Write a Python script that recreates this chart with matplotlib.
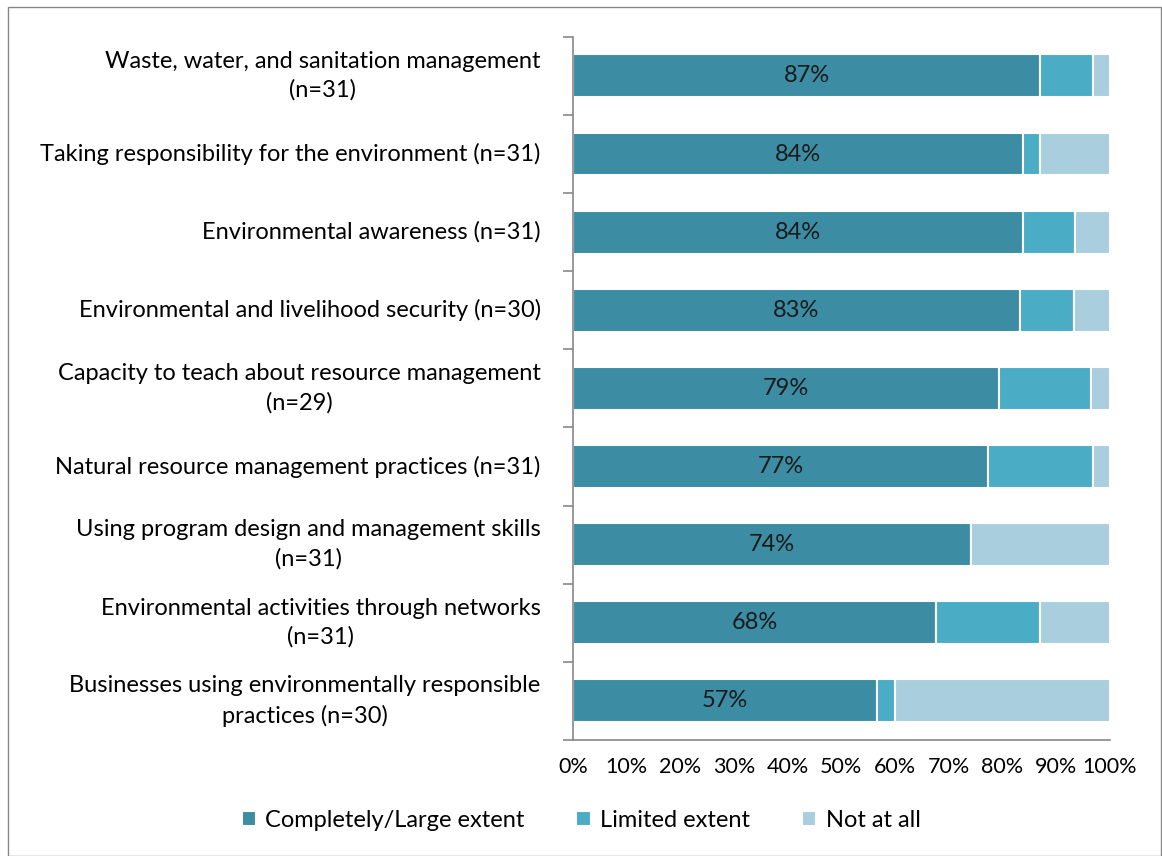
import numpy as np
import matplotlib.pyplot as plt
from matplotlib.patches import Rectangle

plt.rcParams['font.family'] = ['Lato', 'DejaVu Sans']

categories = [
    'Waste, water, and sanitation management\n(n=31)',
    'Taking responsibility for the environment (n=31)',
    'Environmental awareness (n=31)',
    'Environmental and livelihood security (n=30)',
    'Capacity to teach about resource management\n(n=29)',
    'Natural resource management practices (n=31)',
    'Using program design and management skills\n(n=31)',
    'Environmental activities through networks\n(n=31)',
    'Businesses using environmentally responsible\npractices (n=30)',
]
completely = [87.1, 83.9, 83.9, 83.3, 79.3, 77.4, 74.2, 67.7, 56.7]
limited = [9.7, 3.2, 9.7, 10.0, 17.2, 19.4, 0.0, 19.4, 3.3]
not_at_all = [3.2, 12.9, 6.4, 6.7, 3.5, 3.2, 25.8, 12.9, 40.0]

series = ['Completely/Large extent', 'Limited extent', 'Not at all']
colors = ['#3C8DA3', '#4BACC6', '#A9CEDD']

fig = plt.figure(figsize=(11.62, 8.56), dpi=100)
ax = fig.add_axes([0.493, 0.1355, 0.462, 0.8215])

y = np.arange(len(categories))
left = np.zeros(len(categories))
for vals, name, c in zip([completely, limited, not_at_all], series, colors):
    ax.barh(y, vals, left=left, height=0.55, color=c, edgecolor='white',
            linewidth=1.5, label=name)
    left += np.array(vals)

for i, v in enumerate(completely):
    ax.text(v / 2, i, f'{round(v)}%', ha='center', va='center', fontsize=17, color='#1a1a1a')

ax.set_ylim(len(categories) - 0.5, -0.5)
ax.set_xlim(0, 100)
ax.set_xticks(np.arange(0, 101, 10))
ax.set_xticklabels([f'{t}%' for t in range(0, 101, 10)], fontsize=15.5)
ax.tick_params(axis='x', length=0, pad=12)

ax.set_yticks(np.arange(-0.5, len(categories), 1))
ax.set_yticklabels([])
ax.tick_params(axis='y', length=7, color='#888888', width=1.2)
for i, lab in enumerate(categories):
    ax.text(-0.06, i, lab, transform=ax.get_yaxis_transform(), ha='right', va='center',
            multialignment='center', fontsize=17, linespacing=1.45)

for s in ['top', 'right']:
    ax.spines[s].set_visible(False)
ax.spines['left'].set_color('#888888')
ax.spines['bottom'].set_color('#888888')
ax.spines['left'].set_linewidth(1.2)
ax.spines['bottom'].set_linewidth(1.2)

fig.legend(loc='center', bbox_to_anchor=(0.5, 0.042), ncol=3, frameon=False,
           fontsize=17, handlelength=0.6, handleheight=0.6, columnspacing=2.2,
           handletextpad=0.4)

fig.patches.append(Rectangle((0.007, 0.0), 0.992, 0.992, transform=fig.transFigure,
                             fill=False, edgecolor='#888888', linewidth=1))

fig.savefig('out.png', dpi=100)
